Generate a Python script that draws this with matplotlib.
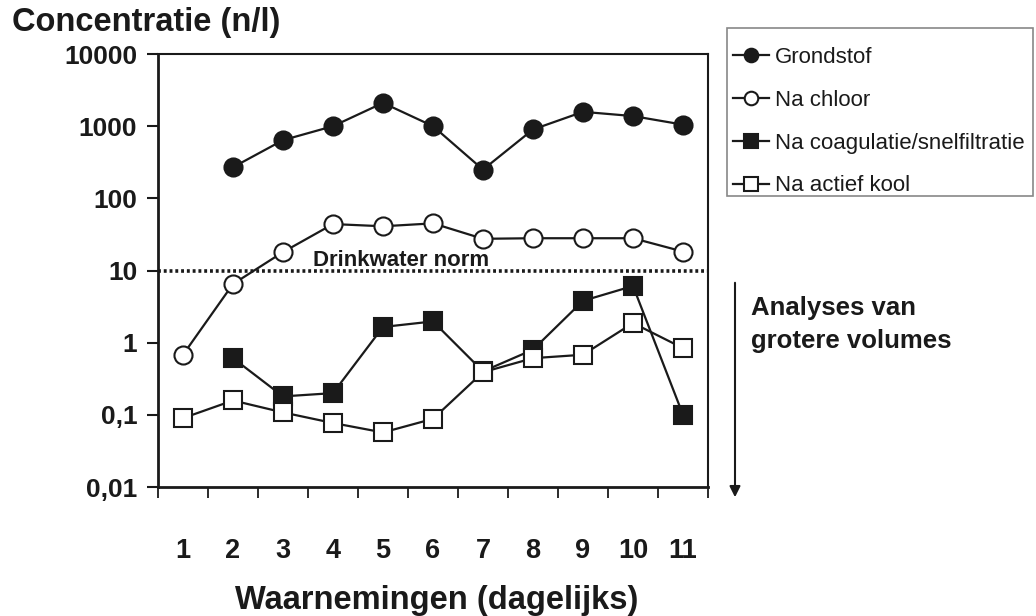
import numpy as np
import matplotlib
matplotlib.use("Agg")
import matplotlib.pyplot as plt
from matplotlib.patches import Rectangle

plt.rcParams.update({
    "font.family": ["Liberation Sans", "DejaVu Sans"],
    "font.weight": "bold",
})

# daily observations (n/l)
days = np.arange(1, 12)
grondstof = [np.nan, 270, 640, 1000, 2100, 1000, 250, 900, 1580, 1380, 1050]
na_chloor = [0.68, 6.5, 18, 44, 41, 45, 27.5, 28, 28, 28, 18.3]
na_coag = [np.nan, 0.61, 0.18, 0.20, 1.65, 1.97, 0.40, 0.80, 3.8, 6.1, 0.10]
na_kool = [0.090, 0.158, 0.108, 0.077, 0.057, 0.088, 0.39, 0.61, 0.68, 1.87, 0.84]
norm = 10

ytick_vals = [0.01, 0.1, 1, 10, 100, 1000, 10000]
ytick_labels = ["0,01", "0,1", "1", "10", "100", "1000", "10000"]

W, H = 1036, 616
fig = plt.figure(figsize=(W / 100, H / 100), dpi=100)
ax = fig.add_axes([158 / W, 1 - 487 / H, 550 / W, 433 / H])

K = "#1a1a1a"
style = dict(color=K, lw=1.6, ms=13, mew=1.5, mec=K)
ax.plot(days, grondstof, marker="o", mfc=K, label="Grondstof", **style)
ax.plot(days, na_chloor, marker="o", mfc="white", label="Na chloor", **style)
ax.plot(days, na_coag, marker="s", mfc=K, label="Na coagulatie/snelfiltratie", **style)
ax.plot(days, na_kool, marker="s", mfc="white", label="Na actief kool", **style)

# drinking water limit
ax.axhline(norm, color=K, lw=2.6, ls=(0, (0.8, 0.8)), zorder=1)
ax.annotate("Drinkwater norm", xy=(401, H - 266), xycoords="figure pixels",
            ha="center", va="baseline", fontsize=16, color=K)

ax.set_yscale("log")
ax.set_ylim(0.01, 10000)
ax.set_yticks(ytick_vals)
ax.set_yticklabels(ytick_labels)
ax.yaxis.set_minor_locator(matplotlib.ticker.NullLocator())
ax.tick_params(axis="y", length=8, width=1.5, pad=7, labelsize=19, colors=K)

ax.set_xlim(0.5, 11.5)
ax.set_xticks(days)
ax.set_xticklabels([str(d) for d in days])
ax.set_xticks(np.arange(0.5, 12, 1), minor=True)
ax.tick_params(axis="x", which="major", length=0, pad=37, labelsize=19.5, colors=K)
ax.tick_params(axis="x", which="minor", length=8, width=1.3, direction="out", colors=K)

for s in ["left", "bottom"]:
    ax.spines[s].set_linewidth(2)
for s in ["top", "right"]:
    ax.spines[s].set_linewidth(1.5)
for s in ax.spines.values():
    s.set_color(K)

fig.text(12 / W, 1 - 22 / H, "Concentratie (n/l)", ha="left", va="center",
         fontsize=23.5, color=K)
fig.text(437 / W, 1 - 600 / H, "Waarnemingen (dagelijks)", ha="center", va="center",
         fontsize=23.5, color=K)

# legend box drawn separately so the padding can be set per side
fig.add_artist(Rectangle((727 / W, 1 - 196 / H), 306 / W, 168 / H, transform=fig.transFigure,
                         fill=False, edgecolor="#888888", lw=1.2))
leg = fig.legend(loc="upper left", bbox_to_anchor=(733 / W, 1 - 47 / H),
                 frameon=False, fontsize=16, markerscale=0.75,
                 handlelength=1.6, handletextpad=0.27, labelspacing=0.98,
                 borderpad=0, borderaxespad=0)
for t in leg.get_texts():
    t.set_fontweight("normal")
    t.set_color(K)

# arrow: analyses of larger volumes
ax.annotate("", xy=(735, H - 500), xycoords="figure pixels",
            xytext=(735, H - 280), textcoords="figure pixels",
            arrowprops=dict(arrowstyle="-|>", color=K, lw=1.5, mutation_scale=16))
fig.text(751 / W, 1 - 348 / H, "Analyses van\ngrotere volumes", ha="left", va="baseline",
         fontsize=18.5, color=K, linespacing=1.45)

fig.savefig("out.png", dpi=100)
